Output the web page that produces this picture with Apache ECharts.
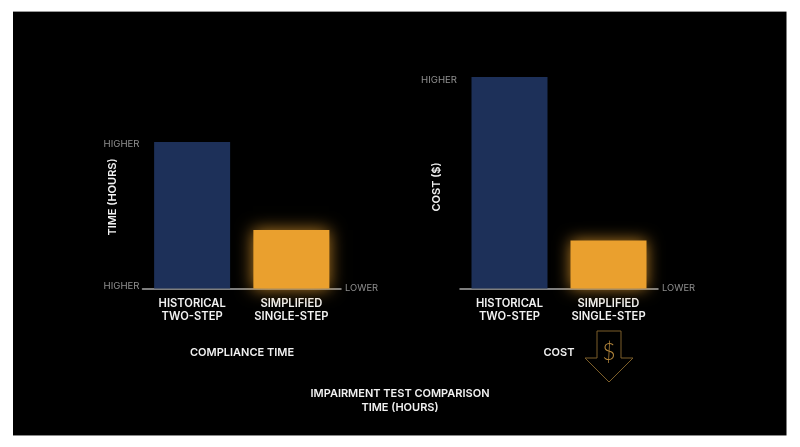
<!DOCTYPE html>
<html><head><meta charset="utf-8">
<style>html,body{margin:0;padding:0;background:#fff}#c{width:800px;height:447px}</style>
<script src="https://cdn.jsdelivr.net/npm/echarts@6/dist/echarts.min.js"></script>
</head><body><div id="c"></div>
<script>
const categories = ['HISTORICAL\nTWO-STEP', 'SIMPLIFIED\nSINGLE-STEP'];
const timeValues = [100, 40];
const costValues = [100, 22.7];
const timeTickLabels = ['HIGHER', 'HIGHER'];
const costTickLabels = ['', 'HIGHER'];
const xEndLabel = 'LOWER';
const FONT = 'Inter, "Open Sans", sans-serif';
const NAVY = '#1d3059', AMBER = '#eaa02e', GREY = '#8f8f8f', WHITE = '#f2f2f2';

function yAxis(idx, labels, topPad) {
  const base = {color: GREY, fontFamily: FONT, fontSize: 9.6};
  return {
    type: 'value', gridIndex: idx, min: 0, max: 100, interval: 100,
    axisLine: {show: false}, axisTick: {show: false}, splitLine: {show: false},
    axisLabel: {color: GREY, fontFamily: FONT, fontSize: 9.6, margin: 3,
      formatter: v => v === 0 ? (labels[0] ? '{low|' + labels[0] + '}' : '') : '{top|' + labels[1] + '}',
      rich: {
        low: Object.assign({padding: [0, 0, 4, 0]}, base),
        top: Object.assign({padding: [topPad, 0, 0, 0]}, base)
      }}
  };
}
function xAxis(idx) {
  return {
    type: 'category', gridIndex: idx, data: categories,
    name: xEndLabel, nameLocation: 'end', nameGap: 4,
    nameTextStyle: {color: GREY, fontFamily: FONT, fontSize: 9.4, verticalAlign: 'middle', padding: [0, 0, 6, 0]},
    axisLine: {lineStyle: {color: '#a8a8a8', width: 1.5}}, axisTick: {show: false},
    axisLabel: {color: WHITE, fontFamily: FONT, fontSize: 11.2, fontWeight: 600, lineHeight: 13, margin: 9, interval: 0}
  };
}
function barSeries(idx, values) {
  return {
    type: 'bar', xAxisIndex: idx, yAxisIndex: idx, barWidth: 76, animation: false,
    data: [
      {value: values[0], itemStyle: {color: NAVY}},
      {value: values[1], itemStyle: {color: AMBER, shadowBlur: 16, shadowColor: 'rgba(234,160,46,0.8)'}}
    ]
  };
}
function titleText(text, x, y, size) {
  return {text, left: x, top: y, textAlign: 'center', padding: 0,
    textStyle: {color: WHITE, fontFamily: FONT, fontSize: size || 11, fontWeight: 600, lineHeight: 14}};
}
function vText(text, x, y) {
  return {type: 'text', x, y, rotation: Math.PI / 2, z: 10,
    style: {text, fill: WHITE, font: '600 11px ' + FONT, align: 'center', verticalAlign: 'middle'}};
}
const chart = echarts.init(document.getElementById('c'), null, {renderer: 'canvas'});
chart.setOption({
  backgroundColor: '#ffffff',
  animation: false,
  title: [
    titleText('COMPLIANCE TIME', 242, 346),
    titleText('COST', 559, 346),
    titleText('IMPAIRMENT TEST COMPARISON\nTIME (HOURS)', 400, 386.5)
  ],
  grid: [
    {left: 142.5, top: 142, width: 198.5, height: 146.5},
    {left: 460, top: 77, width: 198, height: 211.5}
  ],
  xAxis: [xAxis(0), xAxis(1)],
  yAxis: [yAxis(0, timeTickLabels, 4), yAxis(1, costTickLabels, 6)],
  series: [barSeries(0, timeValues), barSeries(1, costValues)],
  graphic: [
    {type: 'rect', z: -10, shape: {x: 13, y: 12, width: 773.5, height: 423}, style: {fill: '#000'}},
    {type: 'rect', z: -9, shape: {x: 13, y: 11, width: 773.5, height: 1}, style: {fill: '#9a9a9a'}},
    {type: 'rect', z: -9, shape: {x: 13, y: 435, width: 773.5, height: 1}, style: {fill: '#8a8a8a'}},
    vText('TIME (HOURS)', 113, 197),
    vText('COST ($)', 437, 187),
    {type: 'polygon', z: 10, shape: {points: [[597,331],[621,331],[621,358],[633,358],[609,382],[585,358],[597,358]]},
      style: {fill: 'none', stroke: '#7d5f2a', lineWidth: 1}},
    {type: 'text', z: 10, x: 609, y: 353, style: {text: '$', fill: '#b5873c', font: '300 23px Lato, ' + FONT, align: 'center', verticalAlign: 'middle'}}
  ]
});
</script></body></html>
